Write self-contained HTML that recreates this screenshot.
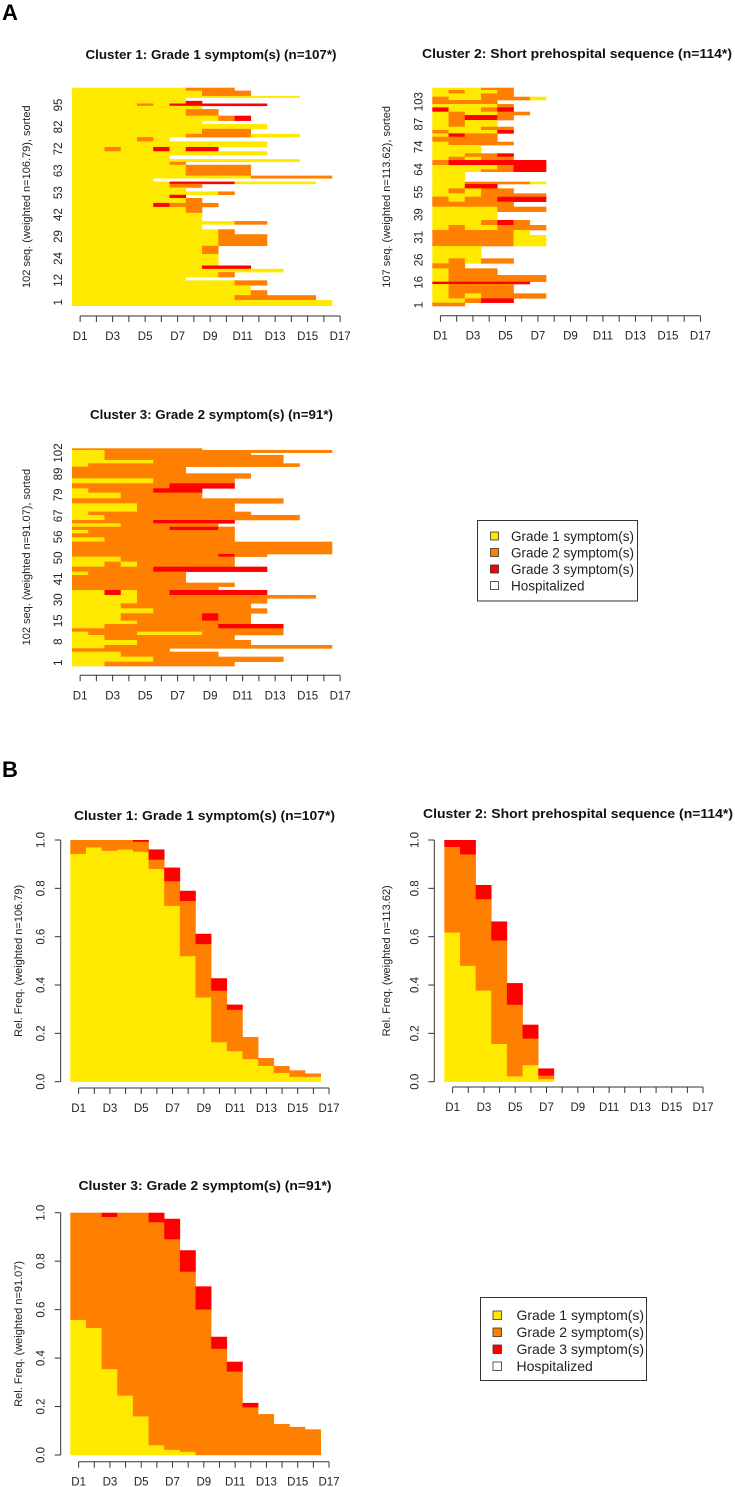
<!DOCTYPE html>
<html><head><meta charset="utf-8"><style>
html,body{margin:0;padding:0;background:#fff;}
svg{display:block;font-family:"Liberation Sans",Arial,sans-serif;}
</style></head><body>
<svg id="fig" width="735" height="1487" viewBox="0 0 735 1487" xmlns="http://www.w3.org/2000/svg">
<rect width="735" height="1487" fill="#fff"/>
<text x="2" y="20" font-size="22" font-weight="bold">A</text>
<text x="2" y="777" font-size="22" font-weight="bold">B</text>
<g>
<rect x="477.5" y="520.5" width="160" height="80.5" fill="#fff" stroke="#333" stroke-width="1"/>
<rect x="490.5" y="532" width="8" height="8" fill="#FFE900" stroke="#333" stroke-width="0.8"/>
<text x="511" y="541" font-size="13.5" fill="#222">Grade 1 symptom(s)</text>
<rect x="490.5" y="548.5" width="8" height="8" fill="#FF7F00" stroke="#333" stroke-width="0.8"/>
<text x="511" y="557.5" font-size="13.5" fill="#222">Grade 2 symptom(s)</text>
<rect x="490.5" y="565" width="8" height="8" fill="#FF0000" stroke="#333" stroke-width="0.8"/>
<text x="511" y="574" font-size="13.5" fill="#222">Grade 3 symptom(s)</text>
<rect x="490.5" y="581.5" width="8" height="8" fill="#fff" stroke="#333" stroke-width="0.8"/>
<text x="511" y="590.5" font-size="13.5" fill="#222">Hospitalized</text>
</g>
<g>
<rect x="480.5" y="1297.5" width="166" height="83" fill="#fff" stroke="#333" stroke-width="1"/>
<rect x="493" y="1311" width="8.5" height="8.5" fill="#FFE900" stroke="#333" stroke-width="0.8"/>
<text x="516.5" y="1320" font-size="14" fill="#222">Grade 1 symptom(s)</text>
<rect x="493" y="1328" width="8.5" height="8.5" fill="#FF7F00" stroke="#333" stroke-width="0.8"/>
<text x="516.5" y="1337" font-size="14" fill="#222">Grade 2 symptom(s)</text>
<rect x="493" y="1345" width="8.5" height="8.5" fill="#FF0000" stroke="#333" stroke-width="0.8"/>
<text x="516.5" y="1354" font-size="14" fill="#222">Grade 3 symptom(s)</text>
<rect x="493" y="1362" width="8.5" height="8.5" fill="#fff" stroke="#333" stroke-width="0.8"/>
<text x="516.5" y="1371" font-size="14" fill="#222">Hospitalized</text>
</g>
</svg>
<script>
const days = ['D1','D2','D3','D4','D5','D6','D7','D8','D9','D10','D11','D12','D13','D14','D15','D16','D17'];
const tickLabels = ['D1','D3','D5','D7','D9','D11','D13','D15','D17'];
const stateColors = {'1':'#FFE900','2':'#FF7F00','3':'#FF0000'};

// Sequence index rows (relative height, per-day state string)
const seqRows1 = [[9,"1111111222"],[16,"11111111222"],[5,"11111111111111"],[10,"1111111"],[8,"11111113"],[7,"111121333333"],[10,"11111111"],[20,"111111122"],[15,"11111111123"],[10,"11111111"],[15,"111111111111"],[15,"11111111222"],[10,"11111112222111"],[13,"111121"],[17,"111111111111"],[13,"112113133"],[12,"111111111111"],[12,"111111"],[8,"11111111111111"],[9,"1111112"],[33,"11111112222"],[8,"1111111111122222"],[10,"11111"],[7,"111111333311111"],[11,"11111122"],[12,"1111111"],[10,"1111111112"],[10,"1111113"],[15,"11111112"],[12,"111113222"],[18,"11111112"],[25,"11111111"],[10,"111111111122"],[15,"11111111"],[15,"1111111112"],[35,"111111111222"],[25,"111111112"],[35,"111111111"],[10,"11111111333"],[10,"1111111111111"],[15,"1111111112"],[10,"1111111"],[15,"111111111122"],[15,"11111111111"],[15,"111111111112"],[15,"111111111122222"],[17,"1111111111111111"]];
const seqRows2 = [[7,"11122"],[10,"12112"],[10,"11122"],[10,"2112221"],[12,"2222"],[10,"11112"],[13,"31123"],[10,"121122"],[15,"12332"],[20,"1211"],[10,"11122"],[10,"21113"],[10,"1322"],[15,"2222"],[10,"12222"],[25,"111"],[10,"11223"],[10,"12122"],[15,"2333333"],[13,"1111233"],[7,"1112233"],[30,"11"],[7,"1122221"],[13,"1133"],[15,"12122"],[10,"1112222"],[15,"2122333"],[15,"22222"],[15,"1111222"],[25,"1111"],[15,"111232"],[15,"1211222"],[15,"222221"],[33,"2222211"],[37,"111"],[15,"12122"],[15,"22"],[20,"1222"],[20,"1222222"],[7,"333333"],[13,"12222"],[15,"12222"],[15,"1212222"],[13,"11233"],[10,"22"]];
const seqRows3 = [[5,"22222222"],[8,"1122222222222222"],[7,"11222222222"],[15,"1122222222222"],[10,"1111122222222"],[10,"12222222222222"],[20,"2222222"],[15,"22222222222"],[15,"1111122222"],[15,"2222223333"],[13,"12222333"],[17,"11122222"],[15,"2222222222222"],[25,"1111222222"],[10,"12222222222"],[15,"11222222222222"],[10,"2222233333"],[10,"111222222"],[10,"2222223332"],[10,"1222222222"],[12,"2222222222"],[13,"1122222222"],[37,"2222222222222222"],[8,"222222222322"],[15,"1112222222"],[15,"1121222222"],[15,"222223333333"],[10,"1222222"],[23,"2222222"],[12,"2222222222"],[10,"222222222"],[15,"113122333333"],[10,"111122222222222"],[15,"111122222222"],[15,"11122222222"],[15,"111112222222"],[10,"11122222322"],[12,"11122222322"],[10,"11112222222"],[13,"1122222223333"],[10,"2222222222222"],[10,"1222111122222"],[15,"1122222222"],[15,"11112222222"],[10,"1122222222222222"],[10,"222222"],[15,"111222222"],[15,"1111122222222"],[13,"1122222222"]];
const seqTicks1 = [1,12,24,29,42,53,63,72,82,95];
const seqTicks2 = [1,16,26,31,39,55,64,74,87,103];
const seqTicks3 = [1,8,15,30,41,50,56,67,79,89,102];

// State distribution (proportions per day)
const freqG1_c1 = [.943,.97,.956,.961,.952,.881,.728,.52,.349,.164,.127,.094,.066,.037,.021,.021];
const freqG2_c1 = [.057,.03,.044,.039,.041,.038,.102,.228,.221,.213,.171,.091,.032,.028,.026,.013];
const freqG3_c1 = [0,0,0,0,.007,.042,.056,.042,.042,.051,.021,0,0,0,0,0];
const freqG1_c2 = [.618,.48,.378,.157,.023,.069,.011,0,0,0,0,0,0,0,0,0];
const freqG2_c2 = [.354,.461,.378,.428,.296,.11,.015,0,0,0,0,0,0,0,0,0];
const freqG3_c2 = [.028,.059,.058,.078,.089,.057,.029,0,0,0,0,0,0,0,0,0];
const freqG1_c3 = [.558,.525,.355,.246,.16,.041,.022,.014,0,0,0,0,0,0,0,0];
const freqG2_c3 = [.442,.475,.628,.754,.84,.92,.869,.743,.601,.439,.345,.197,.169,.128,.116,.106];
const freqG3_c3 = [0,0,.017,0,0,.039,.084,.088,.095,.049,.04,.018,0,0,0,0];
const yTickVals = [0,0.2,0.4,0.6,0.8,1.0];
const yTickText = ['0.0','0.2','0.4','0.6','0.8','1.0'];

const NS='http://www.w3.org/2000/svg';
const svg=document.getElementById('fig');
function mk(tag,attrs,parent){const e=document.createElementNS(NS,tag);for(const k in attrs)e.setAttribute(k,attrs[k]);(parent||svg).appendChild(e);return e;}

function xAxis(g,x0,w,y){
  const ax=mk('g',{},g);
  
  
  mk('line',{x1:x0,x2:x0+16*w,y1:y,y2:y,stroke:'#333','stroke-width':1},ax);
  for(let k=0;k<days.length;k++){
    mk('line',{x1:x0+k*w,x2:x0+k*w,y1:y,y2:y+6,stroke:'#333','stroke-width':1},ax);
  }
  tickLabels.forEach(lbl=>{
    const k=days.indexOf(lbl);
    const t=mk('text',{x:x0+k*w,y:y+24,'font-size':11.5,'text-anchor':'middle',fill:'#222'},ax);
    t.textContent=lbl;
    
    
  });
}
function title(g,txt,cx,y,len){
  const t=mk('text',{x:cx,y:y,'font-size':12.5,'font-weight':'bold','text-anchor':'middle',fill:'#111',textLength:len,lengthAdjust:'spacingAndGlyphs'},g);
  t.textContent=txt;
  
  
}
function vtext(g,txt,x,y,size,name){
  const t=mk('text',{x:0,y:0,'font-size':size,'text-anchor':'middle',fill:'#222',transform:`translate(${x},${y}) rotate(-90)`},g);
  t.textContent=txt;
  
  
}

function seqPlot(o){
  const g=mk('g',{});
  
  
  title(g,o.title,o.tcx,o.ty,o.tlen);
  const total=o.rows.reduce((s,r)=>s+r[0],0);
  const sc=(o.bottom-o.top)/total;
  let y=o.top;
  o.rows.forEach(r=>{
    const h=r[0]*sc;
    for(let i=0;i<r[1].length;i++){
      const rc=mk('rect',{x:o.left+i*o.w,y:y,width:o.w+0.3,height:h+0.3,fill:stateColors[r[1][i]]},g);
      
      
    }
    y+=h;
  });
  const step=(o.lab0-o.labN)/(o.ticks.length-1);
  o.ticks.forEach((lab,k)=>{
    vtext(g,String(lab),o.left-10,o.lab0-k*step,11.5,'y-tick-label');
  });
  vtext(g,o.ylab,o.ylx,(o.top+o.bottom)/2,11,'y-axis-title');
  xAxis(g,o.left+o.w/2,o.w,o.axisY);
}

function freqPlot(o){
  const g=mk('g',{});
  
  
  title(g,o.title,o.tcx,o.ty,o.tlen);
  const yv=v=>o.y0-v*(o.y0-o.y1);
  for(let i=0;i<o.g1.length;i++){
    const x=o.left+i*o.w;
    let c=0;
    [[o.g1[i],stateColors['1'],'bar-grade1'],[o.g2[i],stateColors['2'],'bar-grade2'],[o.g3[i],stateColors['3'],'bar-grade3']].forEach(s=>{
      if(s[0]<=0)return;
      const r=mk('rect',{x:x,y:yv(c+s[0]),width:o.w+0.3,height:yv(c)-yv(c+s[0])+0.2,fill:s[1]},g);
      
      
      c+=s[0];
    });
  }
  const ax=mk('g',{},g);
  
  
  mk('line',{x1:o.ax,x2:o.ax,y1:yv(0),y2:yv(1),stroke:'#333','stroke-width':1},ax);
  yTickVals.forEach((v,j)=>{
    mk('line',{x1:o.ax-6,x2:o.ax,y1:yv(v),y2:yv(v),stroke:'#333','stroke-width':1},ax);
    vtext(ax,yTickText[j],o.ax-16,yv(v),11.5,'y-tick-label');
  });
  vtext(g,o.ylab,o.ylx,(o.y0+o.y1)/2,11,'y-axis-title');
  xAxis(g,o.left+o.w/2+0.5,o.w,o.axisY);
}

seqPlot({name:'seq-plot-cluster1',title:'Cluster 1: Grade 1 symptom(s) (n=107*)',tcx:211,ty:59,tlen:251,rows:seqRows1,left:72,w:16.25,top:87.7,bottom:305.7,ticks:seqTicks1,lab0:302.3,labN:105,ylab:'102 seq. (weighted n=106.79), sorted',ylx:30,axisY:316});
seqPlot({name:'seq-plot-cluster2',title:'Cluster 2: Short prehospital sequence (n=114*)',tcx:577,ty:58,tlen:310,rows:seqRows2,left:432.3,w:16.25,top:87.7,bottom:306,ticks:seqTicks2,lab0:305,labN:101.7,ylab:'107 seq. (weighted n=113.62), sorted',ylx:390,axisY:315.7});
seqPlot({name:'seq-plot-cluster3',title:'Cluster 3: Grade 2 symptom(s) (n=91*)',tcx:211.5,ty:419,tlen:243,rows:seqRows3,left:72,w:16.25,top:448.3,bottom:666,ticks:seqTicks3,lab0:662.7,labN:453,ylab:'102 seq. (weighted n=91.07), sorted',ylx:30,axisY:675.3});

freqPlot({name:'freq-plot-cluster1',title:'Cluster 1: Grade 1 symptom(s) (n=107*)',tcx:204.5,ty:820,tlen:261,g1:freqG1_c1,g2:freqG2_c1,g3:freqG3_c1,left:70.3,w:15.65,y0:1081.7,y1:840,ax:60.7,ylab:'Rel. Freq. (weighted n=106.79)',ylx:22,axisY:1088});
freqPlot({name:'freq-plot-cluster2',title:'Cluster 2: Short prehospital sequence (n=114*)',tcx:578,ty:818,tlen:310,g1:freqG1_c2,g2:freqG2_c2,g3:freqG3_c2,left:444.3,w:15.65,y0:1081.7,y1:840,ax:434.3,ylab:'Rel. Freq. (weighted n=113.62)',ylx:390,axisY:1087});
freqPlot({name:'freq-plot-cluster3',title:'Cluster 3: Grade 2 symptom(s) (n=91*)',tcx:205,ty:1190,tlen:253,g1:freqG1_c3,g2:freqG2_c3,g3:freqG3_c3,left:70.3,w:15.65,y0:1455,y1:1212.7,ax:60.7,ylab:'Rel. Freq. (weighted n=91.07)',ylx:22,axisY:1461.7});
</script>
</body></html>
